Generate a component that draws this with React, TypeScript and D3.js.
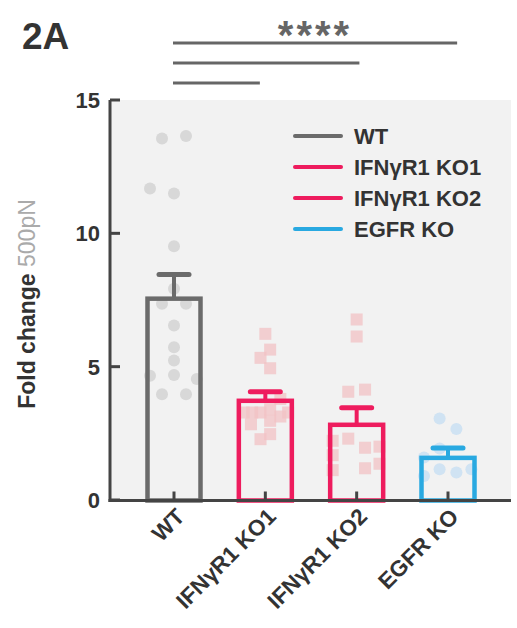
import React from "react";
import * as d3 from "d3";

const categories = ["WT", "IFNγR1 KO1", "IFNγR1 KO2", "EGFR KO"];
const colors = ["#6b6b6b", "#ee1c5e", "#ee1c5e", "#29a9e1"];
const pointColors = ["#d6d6d6", "#f2c1c4", "#f2c1c4", "#cde2f2"];
const pointShapes = ["circle", "square", "square", "circle"];
const means = [7.55, 3.72, 2.82, 1.58];
const errorTops = [8.46, 4.06, 3.46, 1.95];
const yTicks = [0, 5, 10, 15];

// points: [value, jitter slot] (1 slot ≈ one marker width)
const wtPoints: [number, number][] = [
  [13.56, -1], [13.65, 1], [11.68, -2], [11.49, 0], [9.52, 0], [7.92, 0],
  [7.36, -1], [7.36, 1], [6.54, 0], [5.73, 0], [5.23, 0], [4.66, -2],
  [4.69, 0], [4.54, 1.9], [3.97, -1], [3.97, 1],
];
const ko1Points: [number, number][] = [
  [6.23, 0], [5.64, 0.4], [5.33, -0.4], [4.94, 0.4], [3.79, 1.25], [3.4, 0.4],
  [3.28, -1.8], [3.28, -1.1], [3.28, -0.4], [2.97, 0.4], [3.13, 1.25], [3.28, 1.9],
  [2.84, -1.2], [2.47, 0.4], [2.28, -0.4],
];
const ko2Points: [number, number][] = [
  [6.77, 0], [6.13, 0], [4.06, -0.7], [4.14, 0.7], [2.22, -2], [2.3, -0.7],
  [1.96, 0.7], [2.0, 1.9], [1.68, -2], [1.12, -2], [1.19, 0.7], [1.36, 1.9],
];
const egfrPoints: [number, number][] = [
  [3.06, -0.7], [2.66, 0.7], [1.93, -0.7], [1.59, -2], [1.15, -0.7],
  [1.03, 0.7], [0.9, -2], [1.15, 1.95],
];
const allPoints = [wtPoints, ko1Points, ko2Points, egfrPoints];

// significance brackets: [from index, to index] (fractional category position)
const comparisons: [number, number][] = [[0, 3.1], [0, 2.03], [0, 0.94]];
const sigLabel = "****";

const W = 517;
const H = 628;
const FONT = "'Liberation Sans', Arial, Helvetica, sans-serif";

export default function App() {
  const y = d3.scaleLinear().domain([0, 15]).range([500, 100]);
  const x = d3.scaleLinear().domain([0, 3]).range([174, 448]);
  const slot = 12;
  const barHalf = 26.5;
  const axisX = 110;
  const axisY = 500.5;
  const sigY = d3.scaleLinear().domain([0, 2]).range([43, 83]);

  return (
    <svg width={W} height={H} style={{ position: "absolute", left: 0, top: 0 }} fontFamily={FONT}>
      <rect x={0} y={0} width={W} height={H} fill="#ffffff" />
      <rect x={axisX} y={y(15)} width={511 - axisX} height={axisY - y(15)} fill="#f2f2f2" />

      {/* title */}
      <text x={22} y={49} fontSize={37} fontWeight="bold" fill="#333">2A</text>

      {/* significance */}
      {comparisons.map((c, i) => (
        <line key={i} x1={x(c[0]) - 1} x2={x(c[1])} y1={sigY(i)} y2={sigY(i)} stroke="#666" strokeWidth={3} />
      ))}
      <text x={315} y={49} textAnchor="middle" fontSize={40} fontWeight="bold" fill="#666" letterSpacing={3}>{sigLabel}</text>

      {/* points */}
      {allPoints.map((pts, ci) =>
        pts.map(([v, s], pi) => {
          const px = x(ci) + s * slot;
          const py = y(v);
          return pointShapes[ci] === "circle" ? (
            <circle key={`${ci}-${pi}`} cx={px} cy={py} r={6} fill={pointColors[ci]} opacity={0.95} />
          ) : (
            <rect key={`${ci}-${pi}`} x={px - 6} y={py - 6} width={12} height={12} fill={pointColors[ci]} opacity={0.75} />
          );
        })
      )}

      {/* bars */}
      {categories.map((c, i) => (
        <g key={c}>
          <rect x={x(i) - barHalf} y={y(means[i])} width={barHalf * 2} height={axisY - y(means[i])}
            fill="none" stroke={colors[i]} strokeWidth={4.5} />
          <line x1={x(i)} x2={x(i)} y1={y(means[i])} y2={y(errorTops[i])} stroke={colors[i]} strokeWidth={4} />
          <line x1={x(i) - 15} x2={x(i) + 15} y1={y(errorTops[i])} y2={y(errorTops[i])} stroke={colors[i]} strokeWidth={5} strokeLinecap="round" />
        </g>
      ))}

      {/* axes */}
      <line x1={axisX} x2={axisX} y1={y(15)} y2={axisY + 1.5} stroke="#444" strokeWidth={3} />
      <line x1={axisX - 1.5} x2={511} y1={axisY} y2={axisY} stroke="#444" strokeWidth={3} />
      {yTicks.map((t) => (
        <g key={t}>
          <line x1={axisX} x2={axisX + 10} y1={y(t)} y2={y(t)} stroke="#444" strokeWidth={3} />
          <text x={100} y={y(t) + 8} textAnchor="end" fontSize={22} fontWeight="bold" fill="#333">{t}</text>
        </g>
      ))}
      {categories.map((c, i) => (
        <g key={c}>
          <line x1={x(i)} x2={x(i)} y1={axisY} y2={axisY - 9} stroke="#444" strokeWidth={3} />
          <text transform={`translate(${x(i) + 12},${518}) rotate(-45)`} textAnchor="end" fontSize={22.5} fontWeight="bold" fill="#333">{c}</text>
        </g>
      ))}

      {/* y label */}
      <text transform={`translate(35,304) rotate(-90)`} textAnchor="middle" fontSize={23}>
        <tspan fontWeight="bold" fill="#333">Fold change</tspan>
        <tspan fill="#aaa"> 500pN</tspan>
      </text>

      {/* legend */}
      {categories.map((c, i) => {
        const ly = 136 + i * 31;
        return (
          <g key={c}>
            <line x1={295} x2={341} y1={ly} y2={ly} stroke={colors[i]} strokeWidth={4} strokeLinecap="round" />
            <text x={354} y={ly + 8} fontSize={22} fontWeight="bold" fill="#333">{c}</text>
          </g>
        );
      })}
    </svg>
  );
}
